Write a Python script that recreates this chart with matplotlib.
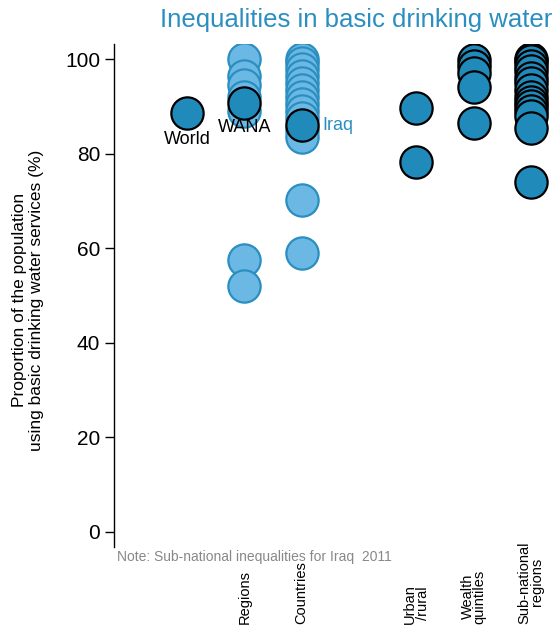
import matplotlib
matplotlib.use("Agg")
import matplotlib.pyplot as plt

plt.rcParams['font.family'] = ['Liberation Sans', 'DejaVu Sans']

# Data
world = [88.6]
wana = [90.7]
regions = [100.0, 96.5, 94.5, 92.0, 89.0, 57.5, 52.0]
countries = [100.0, 99.2, 98.0, 96.5, 95.0, 93.5, 92.0, 90.5, 89.0, 87.5, 85.0, 83.5, 70.3, 59.0]
iraq = [86.1]
urban_rural = [89.7, 78.2]
wealth = [99.9, 98.5, 97.0, 94.0, 86.5]
subnational = [100.0, 99.5, 98.5, 97.5, 96.0, 95.0, 93.5, 92.0, 91.0, 90.0, 89.0, 88.0, 85.5, 74.0]

cat_pos = [2, 3, 5, 6, 7]
cat_labels = ["Regions", "Countries", "Urban\n/rural", "Wealth\nquintiles", "Sub-national\nregions"]
yticks = [0, 20, 40, 60, 80, 100]

DARK = '#208bbb'
LIGHT = '#6cb8e4'
LEDGE = '#2a8fc0'
S = 540

W, H = 558, 625
fig = plt.figure(figsize=(W / 100, H / 100), dpi=100)
ax = fig.add_axes([114 / W, 1 - 547 / H, 1 - 114 / W, (547 - 44) / H])

light_kw = dict(s=S, c=LIGHT, edgecolors=LEDGE, linewidths=1.6, zorder=2)
dark_kw = dict(s=S, c=DARK, edgecolors='black', linewidths=1.6, zorder=3)

ax.scatter([2] * len(regions), regions, **light_kw)
ax.scatter([3] * len(countries), countries, **light_kw)
ax.scatter([1] * len(world), world, **dark_kw)
ax.scatter([2] * len(wana), wana, **dark_kw)
ax.scatter([3] * len(iraq), iraq, **dark_kw)
ax.scatter([5] * len(urban_rural), urban_rural, **dark_kw)
ax.scatter([6] * len(wealth), wealth, **dark_kw)
ax.scatter([7] * len(subnational), subnational, **dark_kw)

ax.text(1, 82.9, "World", ha='center', va='center', fontsize=13, color='black', zorder=4)
ax.text(2, 85.6, "WANA", ha='center', va='center', fontsize=13, color='black', zorder=4)
ax.text(3.367, 85.9, "Iraq", ha='left', va='center', fontsize=13, color=LEDGE, zorder=4)

ax.set_xlim(-0.273, 7.471)
ax.set_ylim(-3.2, 103.2)
ax.set_yticks(yticks)
ax.set_yticklabels([str(t) for t in yticks], fontsize=15)
ax.tick_params(axis='y', length=6.5, width=1, pad=3.5)
ax.set_xticks([])
for sp in ['top', 'right', 'bottom']:
    ax.spines[sp].set_visible(False)
ax.spines['left'].set_linewidth(1)

fig.text(28 / W, 1 - 300 / H, "Proportion of the population\nusing basic drinking water services (%)",
         rotation=90, ha='center', va='center', fontsize=12.5, multialignment='center')

fig.text(552 / W, 1 - 20 / H, "Inequalities in basic drinking water", ha='right', va='center',
         fontsize=18.5, color=LEDGE)
fig.text(117 / W, 1 - 556.5 / H, "Note: Sub-national inequalities for Iraq  2011", ha='left', va='center',
         fontsize=10, color='#888888')

for p, lab in zip(cat_pos, cat_labels):
    xd = ax.transData.transform((p, 0))[0] / fig.bbox.width
    fig.text(xd, 1 - 623.5 / H, lab, rotation=90, ha='center', va='bottom', fontsize=10.5,
             multialignment='center', linespacing=0.85)

fig.savefig("out.png", dpi=100)
